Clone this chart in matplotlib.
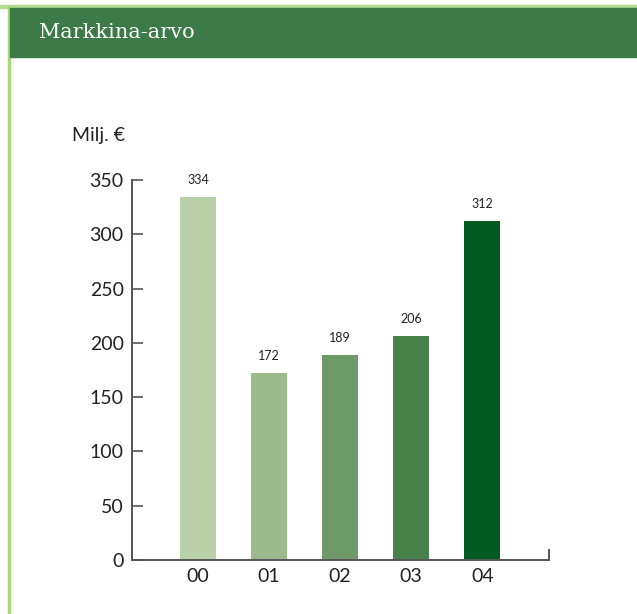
import matplotlib.pyplot as plt
from matplotlib.patches import Rectangle

years = ['00', '01', '02', '03', '04']
values = [334, 172, 189, 206, 312]
bar_colors = ['#b9d0a8', '#9cba8b', '#6e9a6a', '#47824a', '#005a22']
yticks = [0, 50, 100, 150, 200, 250, 300, 350]

W, H = 637, 614
fig = plt.figure(figsize=(W / 100, H / 100), dpi=100)
fig.patch.set_facecolor('white')

# frame: light green top and left border, dark green header band
fig.patches.append(Rectangle((0, 1 - 8 / H), 1, 2.5 / H, transform=fig.transFigure,
                             color='#b5d98e', zorder=0))
fig.patches.append(Rectangle((7.5 / W, 0), 2 / W, 1 - 6 / H, transform=fig.transFigure,
                             color='#a9d77c', zorder=0))
fig.patches.append(Rectangle((9.5 / W, 1 - 57 / H), 1, 49 / H, transform=fig.transFigure,
                             color='#3c7a47', zorder=0))
fig.text(39 / W, 1 - 32 / H, 'Markkina-arvo', color='white', fontsize=15,
         family='DejaVu Serif', va='center', ha='left')

ax = fig.add_axes([132 / W, 54 / H, (549 - 132) / W, 380 / H])
x = range(len(years))
bars = ax.bar(x, values, width=0.5, color=bar_colors, zorder=2)
ax.bar_label(bars, labels=[str(v) for v in values], padding=8,
             fontsize=9, family='Lato', color='#222222')

ax.set_xlim(-0.93, 4.94)
ax.set_ylim(0, 350)
ax.set_yticks(yticks)
ax.set_xticks(list(x))
ax.set_xticklabels(years)

ax.spines['top'].set_visible(False)
for s in ['left', 'bottom', 'right']:
    ax.spines[s].set_color('#555555')
    ax.spines[s].set_linewidth(1.4)
ax.spines['right'].set_bounds(0, 9)

ax.tick_params(axis='y', direction='in', length=8, width=1.2, color='#555555',
               labelsize=14, pad=6, labelcolor='#222222')
ax.tick_params(axis='x', length=0, labelsize=14, pad=6, labelcolor='#222222')
for lab in ax.get_xticklabels() + ax.get_yticklabels():
    lab.set_family('Lato')

fig.text(72 / W, 1 - 135 / H, 'Milj. €', fontsize=14, family='Lato',
         color='#222222', va='center', ha='left')

fig.savefig('out.png', dpi=100)
